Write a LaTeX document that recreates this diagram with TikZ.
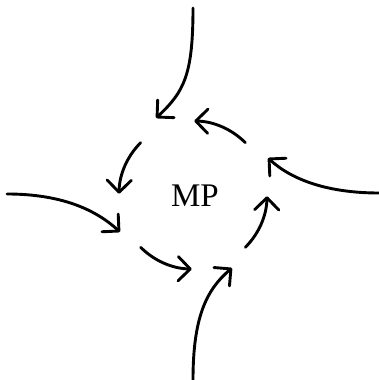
\documentclass[tikz,border=0pt]{standalone}
\usepackage{fontspec}
\setmainfont{Liberation Serif}
\usetikzlibrary{arrows.meta}
\begin{document}
\begin{tikzpicture}[x=1pt,y=1pt,
  flow/.style={line width=2.9pt, line cap=round,
    -{Straight Barb[angle=90:17pt, line cap=round, line join=round]}},
  label/.style={font=\fontsize{33}{40}\selectfont, inner sep=0pt}]
  \useasboundingbox (0,0) rectangle (379,380);
  % centre of the loop and its label
  \coordinate (c) at (193,185);
  \node[label] (mp) at (195,184) {MP};
  % loop of four arcs, running anticlockwise
  \foreach \a in {45,135,225,315}
    \draw[flow] ([shift={(\a:74pt)}]c) arc[start angle=\a, delta angle=44, radius=74pt];
  % incoming flows
  \coordinate (tops) at (193,372);   \coordinate (tope) at (156,262);
  \coordinate (lefts) at (7,186);    \coordinate (lefte) at (120,148);
  \coordinate (bots) at (193,0);     \coordinate (bote) at (232,112);
  \coordinate (rights) at (379,187); \coordinate (righte) at (268,222);
  \draw[flow] (tops) .. controls (193,305) and (184,288) .. (tope);
  \draw[flow] (lefts) .. controls (62,186) and (96,170) .. (lefte);
  \draw[flow] (bots) .. controls (193,62) and (206,90) .. (bote);
  \draw[flow] (rights) .. controls (328,187) and (292,200) .. (righte);
\end{tikzpicture}
\end{document}
